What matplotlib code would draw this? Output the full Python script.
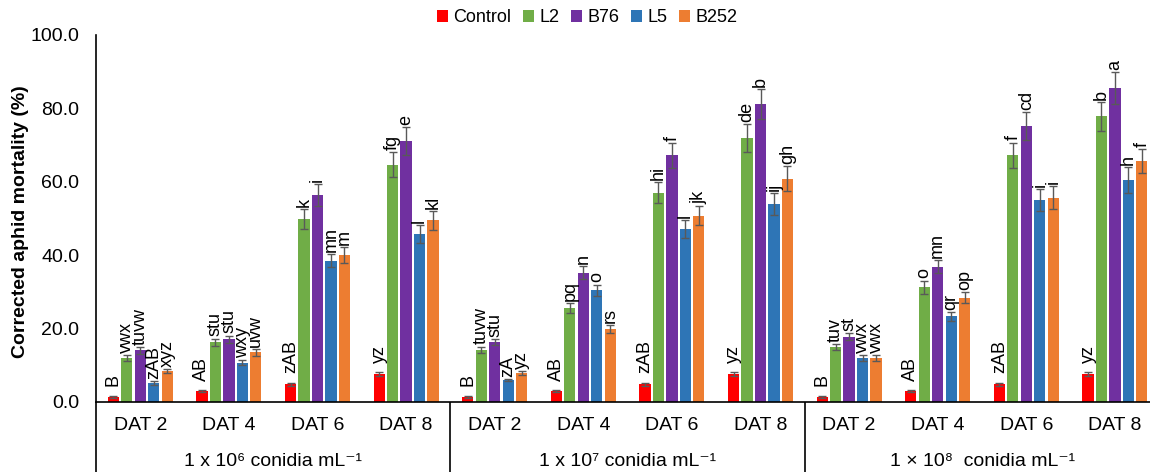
import matplotlib
matplotlib.use("Agg")
import matplotlib.pyplot as plt
from matplotlib.patches import Patch
import numpy as np

plt.rcParams['font.family'] = ['Liberation Sans', 'DejaVu Sans']

# ---------------- data ----------------
days = ["DAT 2", "DAT 4", "DAT 6", "DAT 8"]
concentrations = ["1 x 10\u2076 conidia mL\u207b\u00b9",
                  "1 x 10\u2077 conidia mL\u207b\u00b9",
                  "1 \u00d7 10\u2078  conidia mL\u207b\u00b9"]
series_names = ["Control", "L2", "B76", "L5", "B252"]
series_colors = ["#FF0000", "#70AD47", "#7030A0", "#2E75B6", "#ED7D31"]

control = [1.4, 2.9, 4.8, 7.6, 1.4, 2.9, 4.8, 7.6, 1.4, 2.9, 4.8, 7.6]
l2 = [12.1, 16.3, 49.9, 64.6, 14.2, 25.6, 57.0, 72.0, 14.9, 31.3, 67.2, 77.8]
b76 = [14.1, 17.1, 56.4, 71.2, 16.3, 35.2, 67.2, 81.1, 17.8, 36.9, 75.2, 85.5]
l5 = [5.2, 10.7, 38.5, 45.7, 6.0, 30.4, 47.1, 54.0, 12.1, 23.4, 55.0, 60.5]
b252 = [8.5, 13.5, 40.1, 49.5, 8.0, 19.9, 50.7, 60.8, 12.1, 28.4, 55.7, 65.7]

control_err = [0.3, 0.3, 0.5, 0.5, 0.3, 0.3, 0.5, 0.5, 0.3, 0.3, 0.5, 0.5]
l2_err = [0.8, 1.0, 2.7, 3.4, 0.9, 1.3, 2.9, 3.8, 0.8, 1.8, 3.5, 4.0]
b76_err = [0.9, 1.0, 3.0, 3.8, 0.9, 1.8, 3.4, 4.1, 0.9, 1.8, 3.9, 4.4]
l5_err = [0.55, 0.7, 1.8, 2.5, 0.3, 1.6, 2.5, 3.0, 0.8, 1.2, 3.0, 3.5]
b252_err = [0.6, 0.9, 2.1, 2.5, 0.55, 1.1, 2.6, 3.4, 0.8, 1.5, 3.1, 3.3]

control_letters = ["B", "AB", "zAB", "yz", "B", "AB", "zAB", "yz", "B", "AB", "zAB", "yz"]
l2_letters = ["vwx", "stu", "k", "fg", "tuvw", "pq", "hi", "de", "tuv", "o", "f", "b"]
b76_letters = ["tuvw", "stu", "i", "e", "stu", "n", "f", "b", "st", "mn", "cd", "a"]
l5_letters = ["zAB", "wxy", "mn", "l", "zA", "o", "l", "ij", "vwx", "qr", "i", "h"]
b252_letters = ["xyz", "uvw", "m", "kl", "yz", "rs", "jk", "gh", "vwx", "op", "i", "f"]

values = [control, l2, b76, l5, b252]
errors = [control_err, l2_err, b76_err, l5_err, b252_err]
letters = [control_letters, l2_letters, b76_letters, l5_letters, b252_letters]

# ---------------- figure ----------------
W, H = 1150, 472
fig = plt.figure(figsize=(W / 100, H / 100), dpi=100)
ax_left, ax_right, ax_top, ax_bot = 96, 96 + 12 * 88.6, 35, 402
ax = fig.add_axes([ax_left / W, (H - ax_bot) / H,
                   (ax_right - ax_left) / W, (ax_bot - ax_top) / H])

n_groups = len(days) * len(concentrations)
x = np.arange(n_groups)
slot = 0.152
bw = 0.127
for j, (vals, errs, labs, col) in enumerate(zip(values, errors, letters, series_colors)):
    xs = x + (j - 2) * slot
    ax.bar(xs, vals, width=bw, color=col, edgecolor='none', zorder=2)
    ax.errorbar(xs, vals, yerr=errs, fmt='none', ecolor='#595959',
                elinewidth=1.0, capsize=2.6, capthick=1.0, zorder=3)
    for xi, v, e, t in zip(xs, vals, errs, labs):
        off = 7 if j == 0 else 1.5
        ax.annotate(t, (xi, v + e), xytext=(0, off), textcoords='offset points',
                    rotation=90, ha='center', va='bottom', fontsize=13,
                    color='black', annotation_clip=False)

ax.set_xlim(-0.5, n_groups - 0.5)
ax.set_ylim(0, 100)
ax.set_yticks(np.arange(0, 101, 20))
ax.set_yticklabels([f"{v:.1f}" for v in np.arange(0, 101, 20)], fontsize=14)
ax.tick_params(axis='y', length=0, pad=12)
ax.set_xticks([])
for s in ['top', 'right']:
    ax.spines[s].set_visible(False)
for s in ['left', 'bottom']:
    ax.spines[s].set_linewidth(1.2)
    ax.spines[s].set_color('black')

# category table below axis
axh = ax_bot - ax_top
tr = ax.get_xaxis_transform()
for i in range(n_groups):
    ax.text(i, -(425 - ax_bot) / axh, days[i % len(days)], transform=tr,
            ha='center', va='center', fontsize=14, clip_on=False)
for k, lab in enumerate(concentrations):
    cx = k * len(days) + (len(days) - 1) / 2
    ax.text(cx, -(461 - ax_bot) / axh, lab, transform=tr,
            ha='center', va='center', fontsize=14, clip_on=False)
bottom_y = -(H - ax_bot) / axh
for k in range(len(concentrations) + 1):
    xb = k * len(days) - 0.5
    ax.plot([xb, xb], [0, bottom_y], transform=tr, color='black', lw=1.2,
            clip_on=False, solid_capstyle='butt')

fig.text(21 / W, 1 - ((ax_top + ax_bot) / 2 + 3) / H, "Corrected aphid mortality (%)",
         rotation=90, ha='center', va='center', fontsize=14, fontweight='bold')

handles = [Patch(facecolor=c, edgecolor='none', label=n)
           for c, n in zip(series_colors, series_names)]
fig.legend(handles=handles, loc='center', bbox_to_anchor=(587 / W, 1 - 18 / H),
           ncol=5, frameon=False, fontsize=13, handlelength=0.6, handleheight=0.6,
           handletextpad=0.3, columnspacing=0.65, borderpad=0)

fig.savefig("out.png", dpi=100)
